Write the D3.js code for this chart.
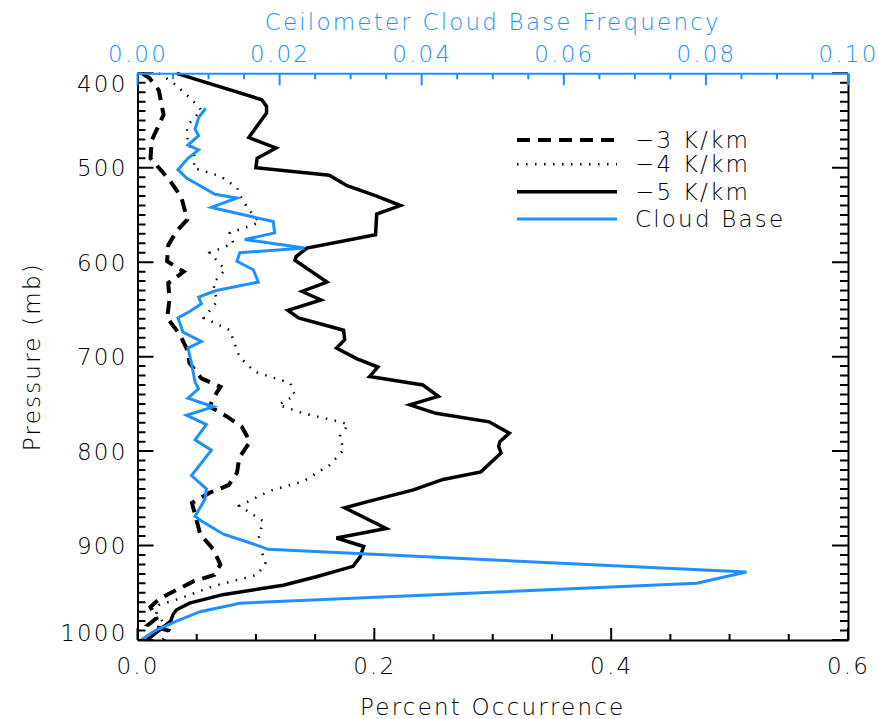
<!DOCTYPE html>
<html>
<head>
<meta charset="utf-8">
<script src="https://cdn.jsdelivr.net/npm/d3@7"></script>
<style>
  body { margin: 0; background: #fff; }
  svg text { font-family: "DejaVu Sans", sans-serif; font-weight: 200; }
</style>
</head>
<body>
<svg id="chart" width="879" height="719"></svg>
<script>
"use strict";

const blue = "#1e90ff"

// [pressure (mb), percent occurrence]
const lapse3 = [[400,0.004],[405,0.010],[418,0.018],[444,0.022],[471,0.012],[490,0.011],[500,0.018],[513,0.027],
    [531,0.037],[555,0.042],[567,0.033],[582,0.026],[599,0.025],[610,0.039],[622,0.026],[640,0.027],[659,0.025],
    [677,0.036],[693,0.042],[707,0.044],[723,0.054],[732,0.070],[744,0.064],[753,0.061],[763,0.075],[774,0.088],
    [790,0.095],[807,0.086],[823,0.084],[836,0.077],[844,0.061],[855,0.046],[888,0.053],[904,0.064],[920,0.070],
    [931,0.065],[938,0.047],[947,0.033],[956,0.019],[965,0.011],[977,0.016],[984,0.009],[990,0.026],[1000,0.022]]

const lapse4 = [[400,0.018],[410,0.030],[428,0.046],[439,0.054],[454,0.043],[465,0.041],[476,0.044],[490,0.049],
    [500,0.047],[509,0.070],[521,0.084],[533,0.088],[546,0.095],[558,0.103],[569,0.078],[580,0.081],[590,0.061],
    [608,0.074],[622,0.064],[642,0.067],[659,0.056],[672,0.078],[700,0.086],[716,0.099],[728,0.129],[741,0.133],
    [751,0.119],[760,0.140],[769,0.171],[772,0.178],[784,0.171],[799,0.174],[815,0.162],[832,0.140],[842,0.112],
    [858,0.086],[874,0.106],[894,0.102],[919,0.108],[931,0.101],[943,0.064],[956,0.036],[963,0.018],[971,0.016],
    [982,0.022],[995,0.012]]

const lapse5 = [[400,0.033],[428,0.105],[435,0.109],[442,0.109],[468,0.094],[479,0.117],[490,0.101],[500,0.100],
    [508,0.162],[519,0.177],[530,0.202],[540,0.222],[549,0.202],[571,0.201],[585,0.143],[594,0.134],[598,0.133],
    [621,0.160],[631,0.139],[640,0.155],[651,0.127],[659,0.136],[672,0.174],[682,0.175],[691,0.168],[702,0.185],
    [711,0.203],[721,0.196],[730,0.241],[742,0.254],[751,0.230],[760,0.252],[769,0.297],[781,0.314],[790,0.306],
    [795,0.305],[802,0.307],[822,0.290],[830,0.258],[841,0.233],[853,0.196],[860,0.175],[882,0.210],[892,0.168],
    [901,0.191],[912,0.188],[922,0.182],[933,0.151],[942,0.123],[952,0.072],[961,0.044],[968,0.033],[973,0.030],
    [980,0.028],[990,0.018],[1000,0.008]]

// [pressure (mb), ceilometer cloud base frequency] - top axis
const cloudBase = [[437,0.0096],[447,0.0086],[459,0.0081],[466,0.0086],[476,0.0071],[481,0.0086],[490,0.0071],
    [502,0.0057],[511,0.0069],[519,0.0088],[528,0.0109],[532,0.0140],[542,0.0104],[557,0.0191],[569,0.0193],
    [576,0.0151],[585,0.0235],[590,0.0144],[599,0.0140],[608,0.0163],[621,0.0170],[630,0.0111],[637,0.0086],
    [644,0.0090],[652,0.0074],[659,0.0057],[674,0.0064],[684,0.0090],[691,0.0071],[707,0.0076],[727,0.0081],
    [734,0.0086],[744,0.0071],[753,0.0107],[762,0.0069],[772,0.0097],[788,0.0081],[799,0.0104],[826,0.0076],
    [840,0.0097],[851,0.0095],[869,0.0081],[874,0.0090],[888,0.0121],[897,0.0158],[904,0.0184],[928,0.0857],
    [940,0.0787],[961,0.0144],[970,0.0088],[980,0.0055],[990,0.0025],[1000,0.0005]]

const bottomTicks = [0.0, 0.2, 0.4, 0.6]
const topTicks = [0.00, 0.02, 0.04, 0.06, 0.08, 0.10]
const pressureTicks = [400, 500, 600, 700, 800, 900, 1000]
const legendLabels = ["\u22123 K/km", "\u22124 K/km", "\u22125 K/km", "Cloud Base"]

const plot = { left: 137.5, right: 848, top: 73.3, bottom: 640 }

const x = d3.scaleLinear().domain([0, 0.6]).range([plot.left, plot.right])
const xTop = d3.scaleLinear().domain([0, 0.1]).range([plot.left, plot.right])
const y = d3.scaleLinear().domain([400, 1000]).range([plot.top, plot.bottom])

const svg = d3.select("#chart")

// line styles, same order as legendLabels
const styles = [
    { color: "#000", width: 4, dash: "13,8" },
    { color: "#000", width: 2.5, dash: "1.5,7.5" },
    { color: "#000", width: 3.5, dash: null },
    { color: blue, width: 3, dash: null }
]

const isMultiple = (v, step) => Math.abs(v / step - Math.round(v / step)) < 1e-6

// style an axis and add the inward minor/major tick marks to its domain path
function styleAxis(g, color, minorValues, isMajor, minorLen, majorLen, mark) {
    g.selectAll(".tick line").remove()
    g.selectAll("text").attr("fill", color).attr("font-size", 23)
        .attr("font-family", "DejaVu Sans, sans-serif").attr("font-weight", 200)
        .style("letter-spacing", "2.2px")
    const domain = g.select("path.domain")
    const marks = minorValues.map(v => mark(v, isMajor(v) ? majorLen : minorLen)).join("")
    domain.attr("d", domain.attr("d") + marks)
        .attr("stroke", color)
        .attr("stroke-width", 2)
        .attr("fill", "none")
}

// profiles
const profile = d3.line().x(d => x(d[1])).y(d => y(d[0]))
const profileTop = d3.line().x(d => xTop(d[1])).y(d => y(d[0]))

const series = [lapse3, lapse4, lapse5]
series.forEach((s, i) => {
    svg.append("path").datum(s)
        .attr("fill", "none")
        .attr("stroke", styles[i].color)
        .attr("stroke-width", styles[i].width)
        .attr("stroke-dasharray", styles[i].dash)
        .attr("d", profile)
})
svg.append("path").datum(cloudBase)
    .attr("fill", "none")
    .attr("stroke", styles[3].color)
    .attr("stroke-width", styles[3].width)
    .attr("d", profileTop)

// bottom axis (ticks pointing up)
svg.append("g").attr("transform", `translate(0,${plot.bottom})`)
    .call(d3.axisBottom(x).tickValues(bottomTicks).tickSize(0).tickPadding(18).tickFormat(d3.format(".1f")))
    .call(g => styleAxis(g, "#000", d3.range(0, 0.6001, 0.05), v => isMultiple(v, 0.2), 6, 12,
        (v, len) => `M${x(v)},0v${-len}`))

// left axis
svg.append("g").attr("transform", `translate(${plot.left},0)`)
    .call(d3.axisLeft(y).tickValues(pressureTicks).tickSize(0).tickPadding(10).tickFormat(d3.format("d")))
    .call(g => styleAxis(g, "#000", d3.range(400, 1001, 10), v => v % 100 == 0, 8, 16,
        (v, len) => `M0,${y(v)}h${len}`))
    .call(g => g.selectAll("text").attr("dy", null).attr("dominant-baseline", "central")
        .attr("y", d => Math.max(plot.top + 10.5, Math.min(plot.bottom - 8, y(d))) - y(d)))

// right axis
svg.append("g").attr("transform", `translate(${plot.right},0)`)
    .call(d3.axisRight(y).tickValues([]).tickSize(0))
    .call(g => styleAxis(g, "#000", d3.range(400, 1001, 10), v => v % 100 == 0, 8, 16,
        (v, len) => `M0,${y(v)}h${-len}`))

// top (blue) axis
svg.append("g").attr("transform", `translate(0,${plot.top})`)
    .call(d3.axisTop(xTop).tickValues(topTicks).tickSize(0).tickPadding(11).tickFormat(d3.format(".2f")))
    .call(g => styleAxis(g, blue, d3.range(0, 0.1001, 0.005), v => isMultiple(v, 0.02), 6, 12,
        (v, len) => `M${xTop(v)},0v${len}`))

// axis titles
svg.append("text").attr("x", (plot.left + plot.right) / 2).attr("y", 715)
    .attr("text-anchor", "middle").attr("font-size", 23).style("letter-spacing", "2.2px")
    .text("Percent Occurrence")
svg.append("text").attr("x", (plot.left + plot.right) / 2).attr("y", 30)
    .attr("text-anchor", "middle").attr("font-size", 23).attr("fill", blue).style("letter-spacing", "2.2px")
    .text("Ceilometer Cloud Base Frequency")
svg.append("text").attr("transform", `translate(40,${(plot.top + plot.bottom) / 2}) rotate(-90)`)
    .attr("text-anchor", "middle").attr("font-size", 23).style("letter-spacing", "2.2px")
    .text("Pressure (mb)")

// legend
const legendRows = [0, 24.3, 51.7, 79]
const legend = svg.append("g").attr("transform", "translate(517,140)")
legendLabels.forEach((label, i) => {
    const row = legendRows[i]
    legend.append("path").attr("d", `M0,${row}H100`)
        .attr("stroke", styles[i].color)
        .attr("stroke-width", styles[i].width)
        .attr("stroke-dasharray", styles[i].dash)
    legend.append("text").attr("x", 118).attr("y", row + 8)
        .attr("font-size", 23).style("letter-spacing", "2.2px")
        .text(label)
})
</script>
</body>
</html>
